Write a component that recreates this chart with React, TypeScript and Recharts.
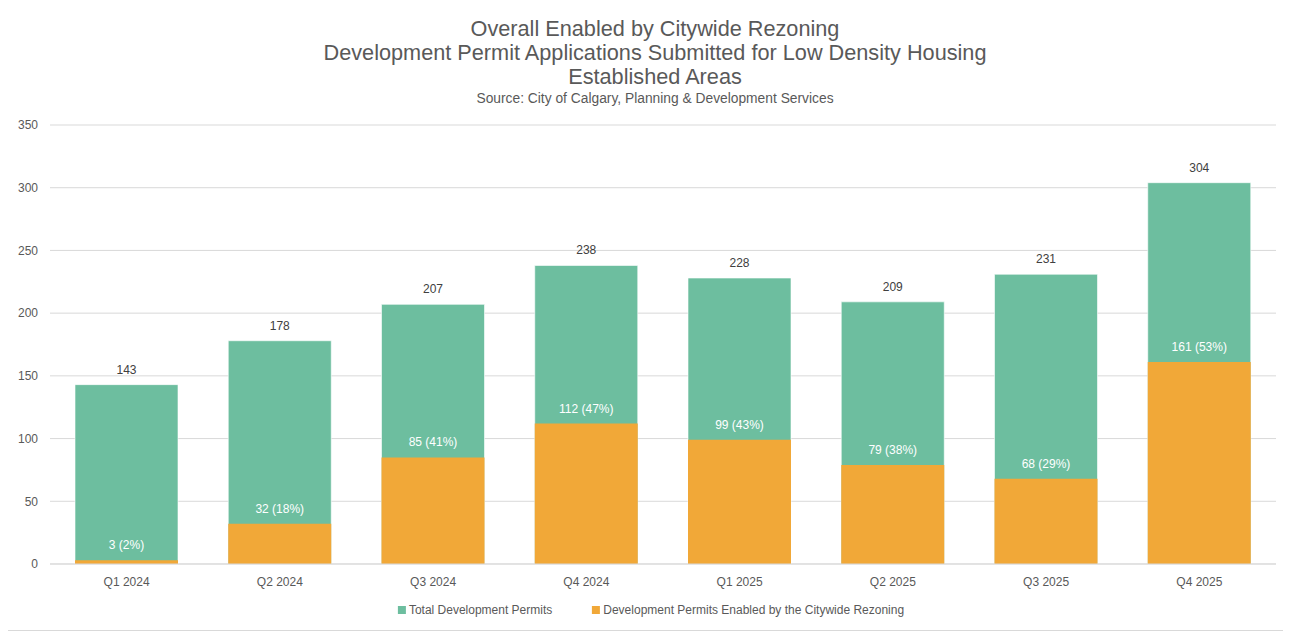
import { BarChart, Bar, XAxis, YAxis, CartesianGrid, LabelList } from 'recharts'

const quarters = ['Q1 2024', 'Q2 2024', 'Q3 2024', 'Q4 2024', 'Q1 2025', 'Q2 2025', 'Q3 2025', 'Q4 2025']
const totalPermits = [143, 178, 207, 238, 228, 209, 231, 304]
const enabledPermits = [3, 32, 85, 112, 99, 79, 68, 161]
const yTicks = [0, 50, 100, 150, 200, 250, 300, 350]

const GREEN = '#6dbe9f'
const ORANGE = '#f1a838'
const FONT = '"Liberation Sans", Arial, sans-serif'

const data = quarters.map((q, i) => ({
  quarter: q,
  total: totalPermits[i],
  enabled: enabledPermits[i],
  enabledLabel: `${enabledPermits[i]} (${Math.round((enabledPermits[i] / totalPermits[i]) * 100)}%)`,
}))

const BAR = 103

export default function App() {
  return (
    <div
      style={{
        position: 'relative',
        width: 1280,
        height: 624,
        marginTop: -3,
        marginLeft: -1,
        border: '1px solid #d9d9d9',
        background: '#fff',
        fontFamily: FONT,
      }}
    >
      <div
        style={{
          position: 'absolute',
          left: 647,
          top: 11,
          transform: 'translateX(-50%)',
          whiteSpace: 'nowrap',
          textAlign: 'center',
          color: '#595959',
        }}
      >
        <div style={{ fontSize: 21.7, lineHeight: '24px' }}>Overall Enabled by Citywide Rezoning</div>
        <div style={{ fontSize: 21.7, lineHeight: '24px' }}>
          Development Permit Applications Submitted for Low Density Housing
        </div>
        <div style={{ fontSize: 21.7, lineHeight: '24px' }}>Established Areas</div>
        <div style={{ fontSize: 13.8, lineHeight: '20px' }}>Source: City of Calgary, Planning &amp; Development Services</div>
      </div>

      <BarChart
        width={1280}
        height={624}
        data={data}
        margin={{ top: 119, right: 12, bottom: 36, left: 0 }}
        barSize={BAR}
        barGap={-BAR}
      >
        <CartesianGrid vertical={false} stroke='#d9d9d9' />
        <XAxis
          dataKey='quarter'
          tickLine={false}
          axisLine={{ stroke: '#d9d9d9' }}
          tick={{ fill: '#595959', fontSize: 12, fontFamily: FONT }}
          tickMargin={7}
          height={30}
        />
        <YAxis
          domain={[0, 350]}
          ticks={yTicks}
          tickLine={false}
          axisLine={false}
          width={42}
          tickMargin={6}
          tick={{ fill: '#595959', fontSize: 12, fontFamily: FONT }}
        />
        <Bar dataKey='total' fill={GREEN} stroke='#ffffff' strokeWidth={0.6} isAnimationActive={false}>
          <LabelList dataKey='total' position='top' offset={11} fill='#404040' fontSize={12} fontFamily={FONT} />
        </Bar>
        <Bar dataKey='enabled' fill={ORANGE} isAnimationActive={false}>
          <LabelList dataKey='enabledLabel' position='top' offset={11} fill='#ffffff' fontSize={12} fontFamily={FONT} />
        </Bar>
      </BarChart>

      <div
        style={{
          position: 'absolute',
          left: 643,
          top: 597,
          transform: 'translateX(-50%)',
          display: 'flex',
          alignItems: 'center',
          whiteSpace: 'nowrap',
          fontSize: 12,
          color: '#595959',
        }}
      >
        <span style={{ width: 8, height: 8, background: GREEN, display: 'inline-block', marginRight: 3 }} />
        <span style={{ marginRight: 40 }}>Total Development Permits</span>
        <span style={{ width: 8, height: 8, background: ORANGE, display: 'inline-block', marginRight: 3 }} />
        <span>Development Permits Enabled by the Citywide Rezoning</span>
      </div>
    </div>
  )
}
